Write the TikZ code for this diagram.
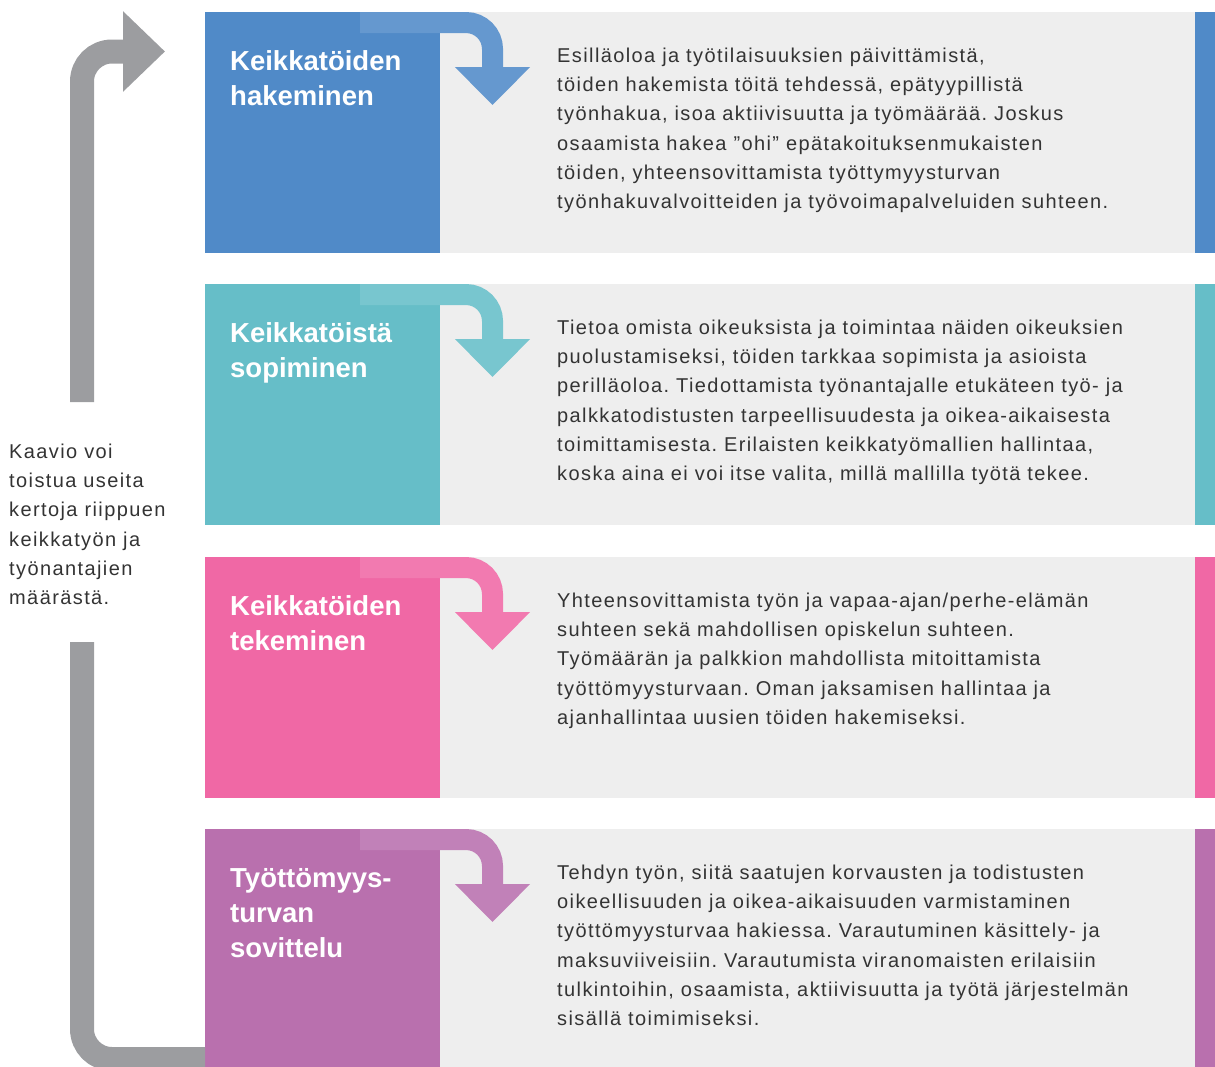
\documentclass[tikz,border=0pt]{standalone}
\usepackage{fontspec}
\setmainfont{Liberation Sans}
\newfontfamily\bodyfont{Liberation Sans}[LetterSpace=7]
\usetikzlibrary{arrows.meta}
\definecolor{kblue}{HTML}{508AC8}
\definecolor{kteal}{HTML}{66BEC8}
\definecolor{kpink}{HTML}{F068A5}
\definecolor{kpurple}{HTML}{B970AE}
\definecolor{kpanel}{HTML}{EEEEEE}
\definecolor{kloop}{HTML}{9C9DA0}
\definecolor{ktext}{HTML}{333333}
\frenchspacing
\begin{document}
\begin{tikzpicture}[x=1pt,y=-1pt,>=latex,
  phase/.style={anchor=north west,inner sep=0pt,minimum width=235pt,minimum height=241pt},
  panel/.style={anchor=north west,inner sep=0pt,fill=kpanel,minimum width=755pt,minimum height=241pt},
  stripe/.style={anchor=north west,inner sep=0pt,minimum width=20pt,minimum height=241pt},
  phasetitle/.style={anchor=north west,inner sep=0pt,text=white,align=left,
    font=\fontsize{27.5}{35}\selectfont\bfseries},
  phasetext/.style={anchor=north west,inner sep=0pt,text=ktext,align=left,
    font=\bodyfont\fontsize{20}{29.3}\selectfont},
  turn/.style={line width=21pt,-{Triangle[width=73pt,length=38pt]}},
  loop/.style={line width=24pt,draw=kloop}]
\useasboundingbox (0,0) rectangle (1215,1066);
\clip (0,0) rectangle (1215,1066);

% phase 1
\node[phase,fill=kblue] (hae) at (205,12) {};
\node[panel] (haep) at (440,12) {};
\node[stripe,fill=kblue] (haes) at (1195,12) {};
\draw[turn,draw=kblue!88!white] (360,22.5) -- (466,22.5)
  arc[start angle=-90,end angle=0,radius=26.5] -- (492.5,105);
\node[phasetitle] (haet) at (230,45.5) {\strut Keikkatöiden\\hakeminen};
\node[phasetext] (haex) at (557,41.5) {\strut Esilläoloa ja työtilaisuuksien päivittämistä,\\
töiden hakemista töitä tehdessä, epätyypillistä\\
työnhakua, isoa aktiivisuutta ja työmäärää. Joskus\\
osaamista hakea ”ohi” epätakoituksenmukaisten\\
töiden, yhteensovittamista työttymyysturvan\\
työnhakuvalvoitteiden ja työvoimapalveluiden suhteen.};

% phase 2
\node[phase,fill=kteal] (sop) at (205,284) {};
\node[panel] (sopp) at (440,284) {};
\node[stripe,fill=kteal] (sops) at (1195,284) {};
\draw[turn,draw=kteal!88!white] (360,294.5) -- (466,294.5)
  arc[start angle=-90,end angle=0,radius=26.5] -- (492.5,377);
\node[phasetitle] (sopt) at (230,317.5) {\strut Keikkatöistä\\sopiminen};
\node[phasetext] (sopx) at (557,313.5) {\strut Tietoa omista oikeuksista ja toimintaa näiden oikeuksien\\
puolustamiseksi, töiden tarkkaa sopimista ja asioista\\
perilläoloa. Tiedottamista työnantajalle etukäteen työ- ja\\
palkkatodistusten tarpeellisuudesta ja oikea-aikaisesta\\
toimittamisesta. Erilaisten keikkatyömallien hallintaa,\\
koska aina ei voi itse valita, millä mallilla työtä tekee.};

% phase 3
\node[phase,fill=kpink] (tek) at (205,557) {};
\node[panel] (tekp) at (440,557) {};
\node[stripe,fill=kpink] (teks) at (1195,557) {};
\draw[turn,draw=kpink!88!white] (360,567.5) -- (466,567.5)
  arc[start angle=-90,end angle=0,radius=26.5] -- (492.5,650);
\node[phasetitle] (tekt) at (230,590.5) {\strut Keikkatöiden\\tekeminen};
\node[phasetext] (tekx) at (557,586.5) {\strut Yhteensovittamista työn ja vapaa-ajan/perhe-elämän\\
suhteen sekä mahdollisen opiskelun suhteen.\\
Työmäärän ja palkkion mahdollista mitoittamista\\
työttömyysturvaan. Oman jaksamisen hallintaa ja\\
ajanhallintaa uusien töiden hakemiseksi.};

% phase 4
\node[phase,fill=kpurple] (sov) at (205,829) {};
\node[panel] (sovp) at (440,829) {};
\node[stripe,fill=kpurple] (sovs) at (1195,829) {};
\draw[turn,draw=kpurple!88!white] (360,839.5) -- (466,839.5)
  arc[start angle=-90,end angle=0,radius=26.5] -- (492.5,922);
\node[phasetitle] (sovt) at (230,862.5) {\strut Työttömyys-\\turvan\\sovittelu};
\node[phasetext] (sovx) at (557,858.5) {\strut Tehdyn työn, siitä saatujen korvausten ja todistusten\\
oikeellisuuden ja oikea-aikaisuuden varmistaminen\\
työttömyysturvaa hakiessa. Varautuminen käsittely- ja\\
maksuviiveisiin. Varautumista viranomaisten erilaisiin\\
tulkintoihin, osaamista, aktiivisuutta ja työtä järjestelmän\\
sisällä toimimiseksi.};

% loop back
\coordinate (up) at (82,402);
\coordinate (down) at (82,642);
\coordinate (back) at (165,51.5);
\node[phasetext] (note) at (9,437.5) {\strut Kaavio voi\\toistua useita\\kertoja riippuen\\keikkatyön ja\\työnantajien\\määrästä.};
\draw[loop,-{Triangle[width=78pt,length=42pt]}] (up) -- (82,81.5)
  arc[start angle=180,end angle=270,radius=30] -- (back);
\draw[loop] (down) -- (82,1029) arc[start angle=180,end angle=90,radius=30]
  -- (sov.west |- 0,1059);
\end{tikzpicture}
\end{document}
